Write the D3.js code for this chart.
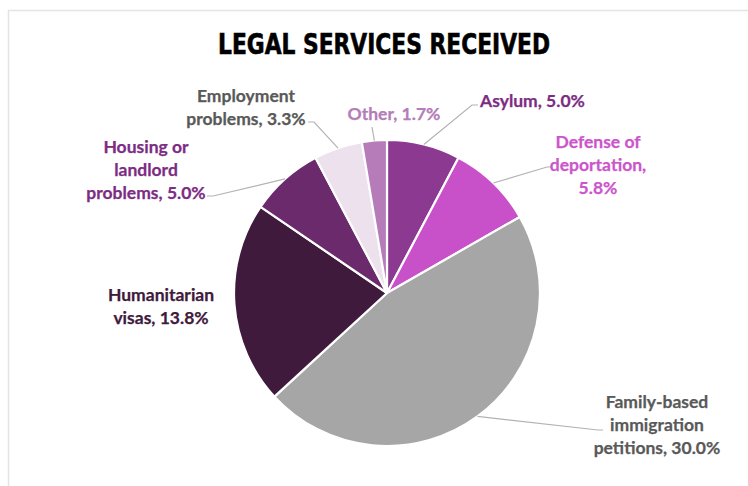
<!DOCTYPE html>
<html>
<head>
<meta charset="utf-8">
<script src="https://cdn.jsdelivr.net/npm/d3@7"></script>
<style>
  html, body { margin: 0; padding: 0; background: #fff; }
  svg { display: block; }
</style>
</head>
<body>
<svg id="chart" width="748" height="486"></svg>
<script>
// Legal services received, share of respondents (%)
const categories = [
  "Asylum",
  "Defense of deportation",
  "Family-based immigration petitions",
  "Humanitarian visas",
  "Housing or landlord problems",
  "Employment problems",
  "Other"
];
const values = [5.0, 5.8, 30.0, 13.8, 5.0, 3.3, 1.7];
// Label text split into lines (value appended on the last line)
const labelLines = [
  ["Asylum,"],
  ["Defense of", "deportation,", ""],
  ["Family-based", "immigration", "petitions,"],
  ["Humanitarian", "visas,"],
  ["Housing or", "landlord", "problems,"],
  ["Employment", "problems,"],
  ["Other,"]
];
const sliceColors = ["#8c3a91", "#c851c9", "#a6a6a6", "#3f1a3d", "#6b2a6c", "#ede1ee", "#b57cb9"];
const labelColors = ["#7d2c84", "#cc55cc", "#595959", "#3f1a3d", "#7d2c84", "#595959", "#b47cb8"];

const W = 748, H = 486;
const cx = 387, cy = 293, R = 153;
const svg = d3.select("#chart");

// faint frame along the top and left edges
svg.append("path")
  .attr("d", `M8.5,${H} L8.5,10.5 L${W},10.5`)
  .attr("fill", "none")
  .attr("stroke", "#e4e4e4")
  .attr("stroke-width", 1.5);

// title
svg.append("text")
  .attr("x", 384).attr("y", 54)
  .attr("text-anchor", "middle")
  .attr("font-family", "'Liberation Sans Narrow', 'DejaVu Sans Condensed', sans-serif")
  .attr("font-weight", 700)
  .attr("font-size", 29)
  .attr("textLength", 332)
  .attr("lengthAdjust", "spacingAndGlyphs")
  .attr("stroke", "#000")
  .attr("stroke-width", 0.6)
  .attr("fill", "#000")
  .text("LEGAL SERVICES RECEIVED");

const data = categories.map((c, i) => ({ name: c, value: values[i], i }));
const pie = d3.pie().sort(null).value(d => d.value);
const arcs = pie(data);
const arc = d3.arc().innerRadius(0).outerRadius(R);

const g = svg.append("g").attr("transform", `translate(${cx},${cy})`);
g.selectAll("path.slice")
  .data(arcs)
  .enter().append("path")
  .attr("class", "slice")
  .attr("d", arc)
  .attr("fill", d => sliceColors[d.data.i])
  .attr("stroke", "#fff")
  .attr("stroke-width", 2.2)
  .attr("stroke-linejoin", "round");

// label layout: text anchor point (first line baseline) and leader route
const layout = [
  { x: 480, y: 107, anchor: "start", elbow: [472, 105], end: [478, 105] },
  { x: 598, y: 148, anchor: "middle", elbow: [547, 167], end: [551, 167] },
  { x: 657, y: 408, anchor: "middle", elbow: [598, 430], end: [603, 430] },
  { x: 161, y: 301, anchor: "middle", elbow: null },
  { x: 146, y: 153, anchor: "middle", elbow: [213, 196], end: [207, 196] },
  { x: 246, y: 102, anchor: "middle", elbow: [314, 122], end: [308, 122] },
  { x: 394, y: 120, anchor: "middle", elbow: [372, 127], end: [372, 127] }
];
const lineGap = 23;
const fmt = d3.format(".1f");

const lab = svg.append("g");
arcs.forEach(a => {
  const i = a.data.i;
  const L = layout[i];
  if (L.elbow) {
    const mid = (a.startAngle + a.endAngle) / 2;
    const sx = cx + R * Math.sin(mid), sy = cy - R * Math.cos(mid);
    lab.append("polyline")
      .attr("points", [[sx, sy], L.elbow, L.end].map(p => p.join(",")).join(" "))
      .attr("fill", "none")
      .attr("stroke", "#b3b3b3")
      .attr("stroke-width", 1.2);
  }
  const lines = labelLines[i].slice();
  const last = lines.length - 1;
  lines[last] = (lines[last] ? lines[last] + " " : "") + fmt(a.data.value) + "%";
  const t = lab.append("text")
    .attr("text-anchor", L.anchor)
    .attr("font-family", "Lato, 'Open Sans', sans-serif")
    .attr("font-weight", 700)
    .attr("font-size", 17.5)
    .attr("fill", labelColors[i])
    .attr("stroke", labelColors[i])
    .attr("stroke-width", 0.25);
  lines.forEach((s, k) => {
    t.append("tspan")
      .attr("x", L.x)
      .attr("y", L.y + k * lineGap)
      .text(s);
  });
});
</script>
</body>
</html>
